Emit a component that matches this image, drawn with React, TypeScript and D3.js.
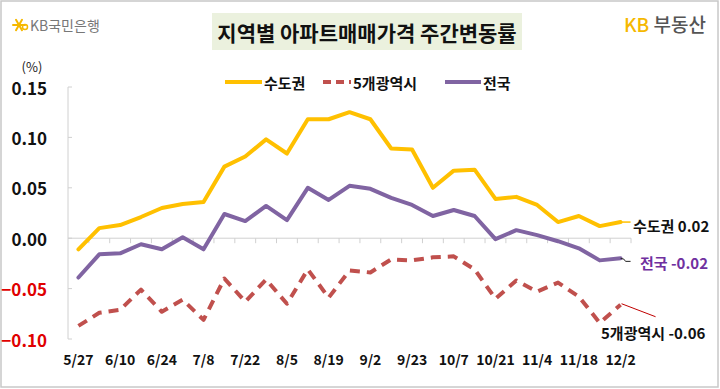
import React, { useRef, useEffect } from "react";
import * as d3 from "d3";

// weekly dates (9/16 skipped, chuseok week)
const dates = ["5/27", "6/3", "6/10", "6/17", "6/24", "7/1", "7/8", "7/15", "7/22", "7/29", "8/5", "8/12", "8/19", "8/26", "9/2", "9/9", "9/23", "9/30", "10/7", "10/14", "10/21", "10/28", "11/4", "11/11", "11/18", "11/25", "12/2"];
const tickDates = ["5/27", "6/10", "6/24", "7/8", "7/22", "8/5", "8/19", "9/2", "9/23", "10/7", "10/21", "11/4", "11/18", "12/2"];

const capital = [-0.011, 0.010, 0.013, 0.021, 0.030, 0.034, 0.036, 0.071, 0.081, 0.098, 0.084, 0.118, 0.118, 0.125, 0.118, 0.089, 0.088, 0.050, 0.067, 0.068, 0.039, 0.041, 0.033, 0.016, 0.022, 0.012, 0.016];
const metro = [-0.087, -0.074, -0.071, -0.051, -0.073, -0.061, -0.081, -0.040, -0.063, -0.041, -0.065, -0.031, -0.059, -0.032, -0.034, -0.021, -0.022, -0.019, -0.018, -0.031, -0.060, -0.042, -0.053, -0.044, -0.058, -0.084, -0.066];
const national = [-0.039, -0.016, -0.015, -0.006, -0.011, 0.001, -0.011, 0.024, 0.017, 0.032, 0.018, 0.050, 0.038, 0.052, 0.049, 0.040, 0.033, 0.022, 0.028, 0.022, -0.001, 0.008, 0.003, -0.003, -0.010, -0.022, -0.020];

const yTicks = [0.15, 0.10, 0.05, 0.00, -0.05, -0.10];

const series = [
  { name: "수도권", values: capital, color: "#FFC000", dash: null },
  { name: "5개광역시", values: metro, color: "#C0504D", dash: "10,7" },
  { name: "전국", values: national, color: "#8064A2", dash: null },
];

const FONT = "'Noto Sans CJK KR', 'Noto Sans', sans-serif";

function App() {
  const svgRef = useRef<SVGSVGElement>(null);
  const width = 720;
  const height = 389;

  useEffect(() => {
    const svg = d3.select(svgRef.current);
    svg.selectAll("*").remove();

    svg.attr("width", width).attr("height", height);

    // outer frame
    svg.append("rect")
      .attr("x", 1).attr("y", 1)
      .attr("width", width - 3).attr("height", height - 3)
      .attr("fill", "white")
      .attr("stroke", "#c8c8c8")
      .attr("stroke-width", 1.5);

    const x = d3.scaleBand().domain(dates).range([68, 631]).paddingInner(0).paddingOuter(0);
    const y = d3.scaleLinear().domain([-0.10, 0.15]).range([339, 87]);
    const cx = (d: string) => (x(d) as number) + x.bandwidth() / 2;

    // title
    svg.append("rect")
      .attr("x", 212).attr("y", 13)
      .attr("width", 310).attr("height", 37)
      .attr("fill", "#EBF1DE");
    svg.append("text")
      .attr("x", 367).attr("y", 32)
      .attr("text-anchor", "middle")
      .attr("dominant-baseline", "central")
      .style("font-family", FONT)
      .style("font-weight", "bold")
      .style("font-size", "21px")
      .attr("fill", "#111")
      .text("지역별 아파트매매가격 주간변동률");

    // KB국민은행 logo
    const logo = svg.append("g").attr("transform", "translate(19,25)");
    [0, 60, 120].forEach((a) => {
      const r = (a * Math.PI) / 180;
      logo.append("line")
        .attr("x1", -6 * Math.cos(r)).attr("y1", -6 * Math.sin(r))
        .attr("x2", 6 * Math.cos(r)).attr("y2", 6 * Math.sin(r))
        .attr("stroke", "#F5B800").attr("stroke-width", 2).attr("stroke-linecap", "round");
    });
    logo.append("circle")
      .attr("cx", 6).attr("cy", 2).attr("r", 2.5)
      .attr("fill", "none").attr("stroke", "#F5B800").attr("stroke-width", 1.5);
    svg.append("text")
      .attr("x", 30).attr("y", 25)
      .attr("dominant-baseline", "central")
      .style("font-family", FONT)
      .style("font-size", "14px")
      .attr("fill", "#777")
      .text("KB국민은행");

    // KB부동산
    const kb = svg.append("text")
      .attr("x", 706).attr("y", 23)
      .attr("text-anchor", "end")
      .attr("dominant-baseline", "central")
      .style("font-family", FONT)
      .style("font-size", "19px")
      .style("font-weight", 500);
    kb.append("tspan").attr("fill", "#F5B800").text("KB ");
    kb.append("tspan").attr("fill", "#555").text("부동산");

    // unit
    svg.append("text")
      .attr("x", 32).attr("y", 66)
      .attr("text-anchor", "middle")
      .attr("dominant-baseline", "central")
      .style("font-family", FONT)
      .style("font-size", "13px")
      .attr("fill", "#222")
      .text("(%)");

    // y axis line and ticks
    const grey = "#d0d0d0";
    svg.append("line")
      .attr("x1", 68).attr("x2", 68)
      .attr("y1", y(0.15)).attr("y2", y(-0.10))
      .attr("stroke", grey).attr("stroke-width", 1);
    svg.append("g").selectAll("line")
      .data(yTicks).enter().append("line")
      .attr("x1", 68).attr("x2", 72)
      .attr("y1", (d) => y(d)).attr("y2", (d) => y(d))
      .attr("stroke", grey);
    svg.append("g").selectAll("text")
      .data(yTicks).enter().append("text")
      .attr("x", 47).attr("y", (d) => y(d))
      .attr("text-anchor", "end")
      .attr("dominant-baseline", "central")
      .style("font-family", FONT)
      .style("font-weight", "bold")
      .style("font-size", "17px")
      .attr("fill", (d) => (d < 0 ? "#E00000" : "#111"))
      .text((d) => d3.format(".2f")(d));

    // zero line with category ticks
    svg.append("line")
      .attr("x1", 68).attr("x2", 631)
      .attr("y1", y(0)).attr("y2", y(0))
      .attr("stroke", grey);
    svg.append("g").selectAll("line")
      .data(dates).enter().append("line")
      .attr("x1", (d) => (x(d) as number) + x.bandwidth())
      .attr("x2", (d) => (x(d) as number) + x.bandwidth())
      .attr("y1", y(0)).attr("y2", y(0) + 5)
      .attr("stroke", grey);

    // x labels
    svg.append("g").selectAll("text")
      .data(tickDates).enter().append("text")
      .attr("x", (d) => cx(d)).attr("y", 359)
      .attr("text-anchor", "middle")
      .attr("dominant-baseline", "central")
      .style("font-family", FONT)
      .style("font-weight", "bold")
      .style("font-size", "14px")
      .attr("fill", "#111")
      .text((d) => d);

    // lines
    const line = d3.line<number>()
      .x((d, i) => cx(dates[i]))
      .y((d) => y(d));

    series.forEach((s) => {
      svg.append("path")
        .datum(s.values)
        .attr("d", line)
        .attr("fill", "none")
        .attr("stroke", s.color)
        .attr("stroke-width", 4)
        .attr("stroke-linejoin", "round")
        .attr("stroke-dasharray", s.dash)
        .attr("stroke-linecap", s.dash ? "butt" : "round");
    });

    // end labels
    const lastX = cx(dates[dates.length - 1]);
    const lastCap = capital[capital.length - 1];
    const lastNat = national[national.length - 1];
    const lastMet = metro[metro.length - 1];

    svg.append("line")
      .attr("x1", lastX).attr("x2", lastX + 10)
      .attr("y1", y(lastCap)).attr("y2", y(lastCap))
      .attr("stroke", "#FFC000").attr("stroke-width", 1.5);
    svg.append("path")
      .attr("d", `M${lastX},${y(lastNat)} q4,0 5,3 l5,0`)
      .attr("fill", "none")
      .attr("stroke", "#222").attr("stroke-width", 1);
    svg.append("line")
      .attr("x1", lastX + 1).attr("x2", lastX + 35)
      .attr("y1", y(lastMet) - 1).attr("y2", y(lastMet) + 12)
      .attr("stroke", "#C00000").attr("stroke-width", 1);

    const endLabel = (tx: number, ty: number, text: string, color: string) => {
      svg.append("text")
        .attr("x", tx).attr("y", ty)
        .attr("dominant-baseline", "central")
        .style("font-family", FONT)
        .style("font-weight", "bold")
        .style("font-size", "15px")
        .attr("fill", color)
        .text(text);
    };
    endLabel(633, y(lastCap) + 3, "수도권 0.02", "#111");
    endLabel(640, y(lastNat) + 4, "전국 -0.02", "#7030A0");
    endLabel(601, y(lastMet) + 28, "5개광역시 -0.06", "#111");

    // legend
    const legendItems = [
      { s: series[0], lx: 225, tx: 264 },
      { s: series[1], lx: 323, tx: 353 },
      { s: series[2], lx: 445, tx: 483 },
    ];
    legendItems.forEach(({ s, lx, tx }) => {
      svg.append("line")
        .attr("x1", lx).attr("x2", tx - 2)
        .attr("y1", 82).attr("y2", 82)
        .attr("stroke", s.color)
        .attr("stroke-width", 4)
        .attr("stroke-dasharray", s.dash ? "8,5" : null);
      svg.append("text")
        .attr("x", tx).attr("y", 82)
        .attr("dominant-baseline", "central")
        .style("font-family", FONT)
        .style("font-weight", "bold")
        .style("font-size", "15px")
        .attr("fill", "#111")
        .text(s.name);
    });
  }, []);

  return (
    <svg ref={svgRef} style={{ position: "absolute", left: 0, top: 0 }}></svg>
  );
}

export default App;
